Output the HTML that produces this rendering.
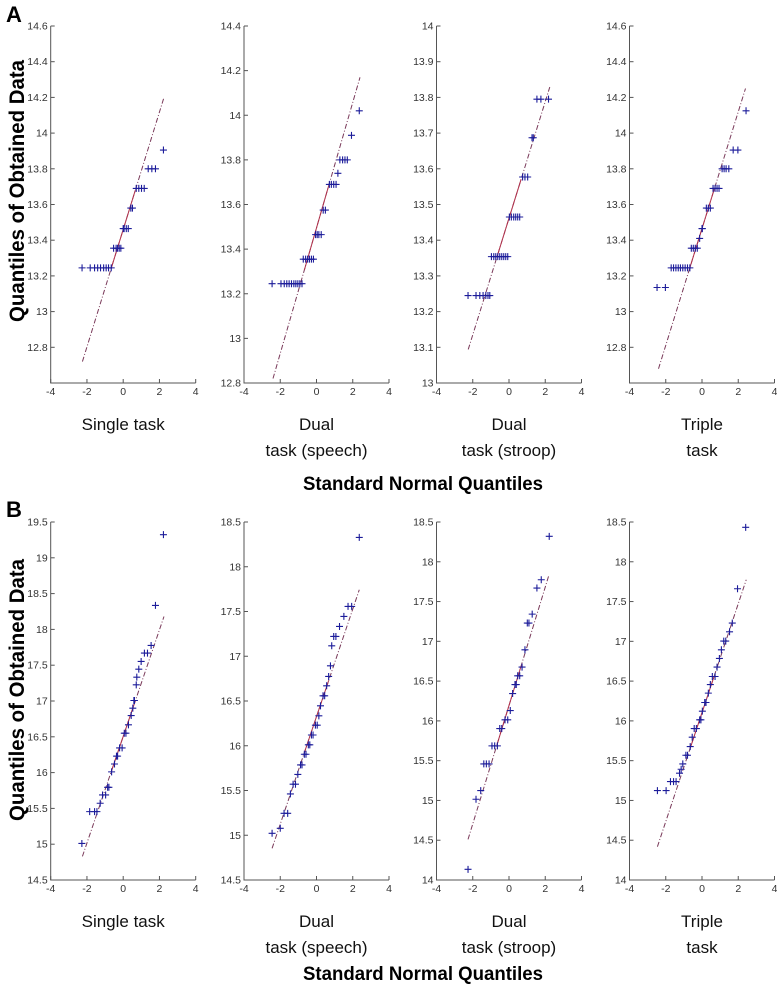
<!DOCTYPE html>
<html><head><meta charset="utf-8"><style>
html,body{margin:0;padding:0;background:#fff;}
svg{display:block;font-family:"Liberation Sans",Arial,sans-serif;}
.tk{font-size:10.5px;fill:#333;}
.cat{font-size:17px;fill:#111;}
</style></head><body>
<svg id="fig" width="777" height="994" viewBox="0 0 777 994">
<text x="6" y="22" font-size="22" font-weight="bold">A</text>
<text x="6" y="517" font-size="22" font-weight="bold">B</text>
<text transform="translate(24,191) rotate(-90)" text-anchor="middle" font-size="21" font-weight="bold" textLength="262" lengthAdjust="spacingAndGlyphs">Quantiles of Obtained Data</text>
<text transform="translate(24,690) rotate(-90)" text-anchor="middle" font-size="21" font-weight="bold" textLength="262" lengthAdjust="spacingAndGlyphs">Quantiles of Obtained Data</text>
<text x="423" y="490" text-anchor="middle" font-size="19" font-weight="bold" textLength="240" lengthAdjust="spacingAndGlyphs">Standard Normal Quantiles</text>
<text x="423" y="980" text-anchor="middle" font-size="19" font-weight="bold" textLength="240" lengthAdjust="spacingAndGlyphs">Standard Normal Quantiles</text>
<g id="plots"></g>
</svg>
<script>
// ---- data ----
const categories = [["Single task"],["Dual","task (speech)"],["Dual","task (stroop)"],["Triple","task"]];
const xTickLabels = ["-4","-2","0","2","4"];
const xTicks = [-4,-2,0,2,4];

const a1X = [-2.27,-1.82,-1.58,-1.41,-1.25,-1.08,-0.94,-0.81,-0.66,-0.53,-0.39,-0.31,-0.22,-0.13,0,0.05,0.17,0.28,0.42,0.51,0.72,0.86,1.01,1.16,1.38,1.58,1.78,2.22];
const a1Y = [13.245,13.245,13.245,13.245,13.245,13.245,13.245,13.245,13.245,13.355,13.355,13.355,13.355,13.355,13.465,13.465,13.465,13.465,13.58,13.58,13.69,13.69,13.69,13.69,13.8,13.8,13.8,13.905];
const a1LineX = [-2.25,2.25]; const a1LineY = [12.72,14.2];

const a2X = [-2.45,-1.96,-1.78,-1.64,-1.51,-1.38,-1.25,-1.14,-1.03,-0.92,-0.80,-0.73,-0.60,-0.49,-0.39,-0.28,-0.17,-0.05,0.04,0.13,0.26,0.37,0.49,0.71,0.82,0.95,1.08,1.18,1.29,1.44,1.57,1.70,1.93,2.36];
const a2Y = [13.245,13.245,13.245,13.245,13.245,13.245,13.245,13.245,13.245,13.245,13.245,13.355,13.355,13.355,13.355,13.355,13.355,13.465,13.465,13.465,13.465,13.575,13.575,13.69,13.69,13.69,13.69,13.74,13.8,13.8,13.8,13.8,13.91,14.02];
const a2LineX = [-2.4,2.4]; const a2LineY = [12.82,14.17];

const a3X = [-2.26,-1.82,-1.61,-1.43,-1.28,-1.16,-1.06,-0.97,-0.84,-0.73,-0.62,-0.51,-0.40,-0.29,-0.18,-0.07,0.02,0.13,0.26,0.37,0.48,0.59,0.75,0.88,1.03,1.27,1.34,1.54,1.76,2.18];
const a3Y = [13.245,13.245,13.245,13.245,13.245,13.245,13.245,13.354,13.354,13.354,13.354,13.354,13.354,13.354,13.354,13.354,13.465,13.465,13.465,13.465,13.465,13.465,13.577,13.577,13.577,13.687,13.687,13.795,13.795,13.795];
const a3LineX = [-2.25,2.25]; const a3LineY = [13.094,13.829];

const a4X = [-2.48,-2.02,-1.70,-1.57,-1.44,-1.31,-1.19,-1.06,-0.93,-0.80,-0.67,-0.59,-0.48,-0.37,-0.26,-0.13,0.0,0.02,0.24,0.35,0.46,0.61,0.72,0.83,0.94,1.11,1.22,1.33,1.48,1.72,1.98,2.43];
const a4Y = [13.135,13.135,13.245,13.245,13.245,13.245,13.245,13.245,13.245,13.245,13.245,13.355,13.355,13.355,13.355,13.41,13.465,13.465,13.58,13.58,13.58,13.69,13.69,13.69,13.69,13.8,13.8,13.8,13.8,13.905,13.905,14.125];
const a4LineX = [-2.4,2.4]; const a4LineY = [12.68,14.25];

const b1X = [-2.28,-1.85,-1.58,-1.45,-1.27,-1.14,-0.97,-0.86,-0.79,-0.64,-0.48,-0.37,-0.31,-0.20,-0.06,0.06,0.15,0.29,0.44,0.53,0.59,0.62,0.72,0.75,0.86,0.99,1.17,1.34,1.54,1.78,2.22];
const b1Y = [15.01,15.455,15.455,15.455,15.572,15.688,15.688,15.795,15.795,16.01,16.12,16.23,16.23,16.345,16.345,16.55,16.55,16.667,16.797,16.9,17.007,17.007,17.226,17.333,17.445,17.552,17.669,17.669,17.776,18.335,19.323];
const b1LineX = [-2.25,2.25]; const b1LineY = [14.83,18.18];

const b2X = [-2.45,-2.0,-1.79,-1.59,-1.44,-1.29,-1.16,-1.03,-0.88,-0.80,-0.67,-0.58,-0.45,-0.37,-0.28,-0.19,-0.06,0.04,0.13,0.22,0.36,0.45,0.56,0.67,0.77,0.84,0.95,1.07,1.27,1.51,1.74,1.94,2.36];
const b2Y = [15.022,15.078,15.245,15.245,15.462,15.57,15.57,15.68,15.786,15.786,15.905,15.905,16.01,16.01,16.12,16.12,16.23,16.23,16.334,16.446,16.558,16.558,16.67,16.774,16.893,17.117,17.221,17.221,17.333,17.445,17.557,17.557,18.328];
const b2LineX = [-2.45,2.36]; const b2LineY = [14.854,17.743];

const b3X = [-2.26,-1.82,-1.56,-1.39,-1.25,-1.10,-0.94,-0.79,-0.64,-0.51,-0.40,-0.22,-0.07,0.07,0.20,0.33,0.40,0.48,0.59,0.72,0.88,1.01,1.10,1.28,1.54,1.78,2.22];
const b3Y = [14.134,15.015,15.124,15.459,15.459,15.459,15.686,15.686,15.686,15.904,15.904,16.013,16.013,16.13,16.344,16.457,16.457,16.567,16.567,16.676,16.894,17.23,17.23,17.342,17.67,17.774,18.32];
const b3LineX = [-2.26,2.18]; const b3LineY = [14.511,17.816];

const b4X = [-2.46,-1.98,-1.74,-1.57,-1.43,-1.24,-1.15,-1.06,-0.89,-0.80,-0.65,-0.54,-0.43,-0.31,-0.13,-0.06,0.02,0.15,0.22,0.35,0.46,0.57,0.72,0.83,0.96,1.07,1.20,1.31,1.52,1.67,1.96,2.41];
const b4Y = [15.124,15.124,15.237,15.237,15.237,15.342,15.392,15.459,15.568,15.568,15.677,15.795,15.904,15.904,16.013,16.013,16.122,16.231,16.231,16.349,16.457,16.558,16.558,16.676,16.785,16.894,17.003,17.003,17.12,17.23,17.661,18.433];
const b4LineX = [-2.46,2.44]; const b4LineY = [14.419,17.774];

const aTicks1 = ["12.8","13","13.2","13.4","13.6","13.8","14","14.2","14.4","14.6"];
const aTicks2 = ["12.8","13","13.2","13.4","13.6","13.8","14","14.2","14.4"];
const aTicks3 = ["13","13.1","13.2","13.3","13.4","13.5","13.6","13.7","13.8","13.9","14"];
const aTicks4 = ["12.8","13","13.2","13.4","13.6","13.8","14","14.2","14.4","14.6"];
const bTicks1 = ["14.5","15","15.5","16","16.5","17","17.5","18","18.5","19","19.5"];
const bTicks2 = ["14.5","15","15.5","16","16.5","17","17.5","18","18.5"];
const bTicks34 = ["14","14.5","15","15.5","16","16.5","17","17.5","18","18.5"];

// ---- layout ----
const lefts = [50.7,244,436.5,629.5];
const W = 145;
const panels = [
 {row:0,col:0,top:26,bot:383,ymin:12.6,ymax:14.6,ticks:aTicks1,xs:a1X,ys:a1Y,lx:a1LineX,ly:a1LineY},
 {row:0,col:1,top:26,bot:383,ymin:12.8,ymax:14.4,ticks:aTicks2,xs:a2X,ys:a2Y,lx:a2LineX,ly:a2LineY},
 {row:0,col:2,top:26,bot:383,ymin:13,ymax:14,ticks:aTicks3,xs:a3X,ys:a3Y,lx:a3LineX,ly:a3LineY},
 {row:0,col:3,top:26,bot:383,ymin:12.6,ymax:14.6,ticks:aTicks4,xs:a4X,ys:a4Y,lx:a4LineX,ly:a4LineY},
 {row:1,col:0,top:522,bot:880,ymin:14.5,ymax:19.5,ticks:bTicks1,xs:b1X,ys:b1Y,lx:b1LineX,ly:b1LineY},
 {row:1,col:1,top:522,bot:880,ymin:14.5,ymax:18.5,ticks:bTicks2,xs:b2X,ys:b2Y,lx:b2LineX,ly:b2LineY},
 {row:1,col:2,top:522,bot:880,ymin:14,ymax:18.5,ticks:bTicks34,xs:b3X,ys:b3Y,lx:b3LineX,ly:b3LineY},
 {row:1,col:3,top:522,bot:880,ymin:14,ymax:18.5,ticks:bTicks34,xs:b4X,ys:b4Y,lx:b4LineX,ly:b4LineY}
];
const NS="http://www.w3.org/2000/svg";
const root=document.getElementById('plots');
function mk(tag,attrs,parent){const e=document.createElementNS(NS,tag);for(const k in attrs)e.setAttribute(k,attrs[k]);parent.appendChild(e);return e;}
panels.forEach((p,i)=>{
  const L=lefts[p.col],R=L+W;
  const sx=v=>L+(v+4)/8*W;
  const sy=v=>p.bot-(v-p.ymin)/(p.ymax-p.ymin)*(p.bot-p.top);
  const g=mk('g',{},root);
  
  
  const ax=mk('path',{d:`M${L},${p.top}V${p.bot}H${R}`,fill:'none',stroke:'#555','stroke-width':1},g);
  
  
  xTicks.forEach((t,j)=>{
    const x=sx(t);
    mk('line',{x1:x,y1:p.bot,x2:x,y2:p.bot-4,stroke:'#555'},g);
    const tx=mk('text',{x:x,y:p.bot+12,'text-anchor':'middle',class:'tk'},g);
    tx.textContent=xTickLabels[j];
    
    
  });
  p.ticks.forEach(lab=>{
    const y=sy(parseFloat(lab));
    mk('line',{x1:L,y1:y,x2:L+4,y2:y,stroke:'#555'},g);
    const tx=mk('text',{x:L-3,y:y+3.5,'text-anchor':'end',class:'tk'},g);
    tx.textContent=lab;
    
    
  });
  const ln=mk('line',{x1:sx(p.lx[0]),y1:sy(p.ly[0]),x2:sx(p.lx[1]),y2:sy(p.ly[1]),stroke:'#7a3a5a','stroke-width':1,'stroke-dasharray':'5,2,1,2'},g);
  
  
  const slope=(p.ly[1]-p.ly[0])/(p.lx[1]-p.lx[0]);
  const yAt=x=>p.ly[0]+slope*(x-p.lx[0]);
  const sl=mk('line',{x1:sx(-0.67),y1:sy(yAt(-0.67)),x2:sx(0.67),y2:sy(yAt(0.67)),stroke:'#b0304a','stroke-width':1},g);
  
  
  p.xs.forEach((xv,k)=>{
    const cx=sx(xv),cy=sy(p.ys[k]);
    const m=mk('path',{d:`M${cx-3.5},${cy}H${cx+3.5}M${cx},${cy-3.5}V${cy+3.5}`,stroke:'#1c1c9a','stroke-width':1.1},g);
    
    
  });
  const cat=categories[p.col];
  const cxm=L+W/2;
  const base=p.row?927:430;
  cat.forEach((s,j)=>{
    const t=mk('text',{x:cxm,y:base+j*26,'text-anchor':'middle',class:'cat'},g);
    t.textContent=s;
    
    
  });
});
</script>
</body></html>
